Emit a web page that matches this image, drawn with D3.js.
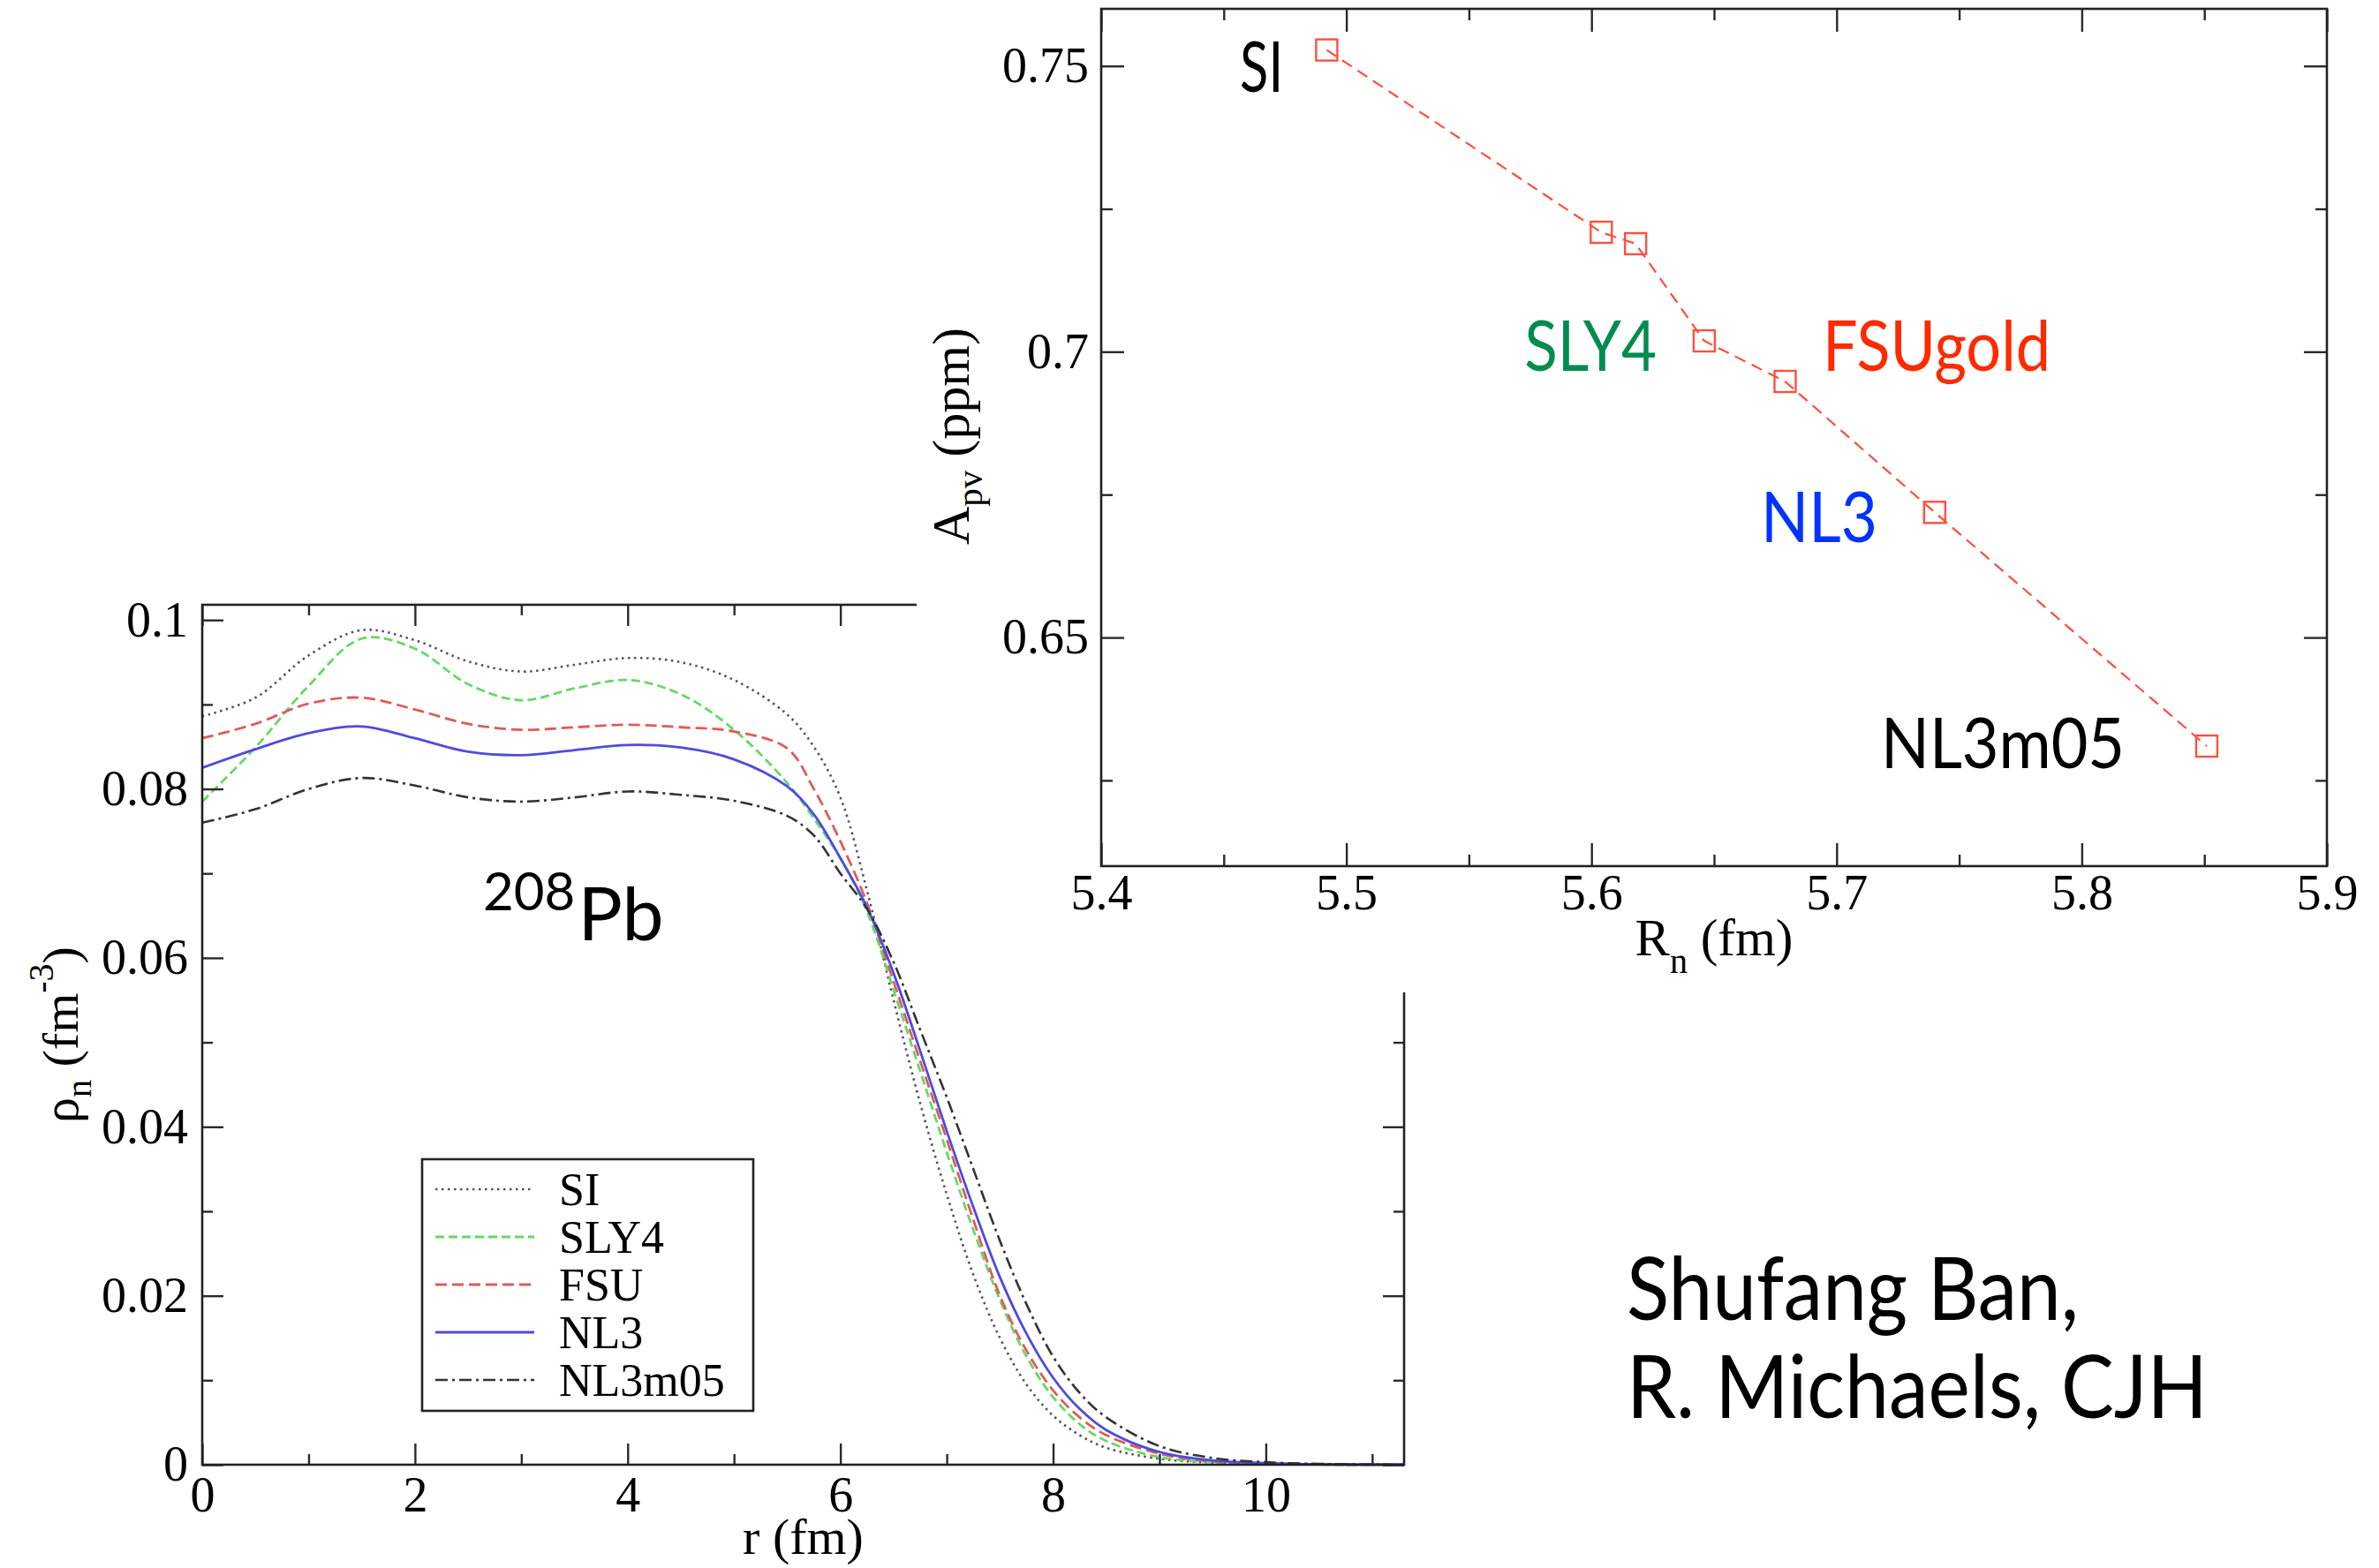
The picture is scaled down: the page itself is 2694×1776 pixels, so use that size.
<!DOCTYPE html>
<html><head><meta charset="utf-8">
<script src="https://cdn.jsdelivr.net/npm/d3@7"></script>
<style>html,body{margin:0;padding:0;background:#fff}svg{display:block}</style>
</head><body>
<svg id="c" width="2694" height="1776"></svg>
<script>
// ---------- DATA: left panel, neutron density of 208Pb ----------
const rGrid   = [0,0.5,1,1.5,2,2.5,3,3.5,4,4.5,5,5.5,5.75,6,6.25,6.5,6.75,7,7.25,7.5,7.75,8,8.25,8.5,9,9.5,10,10.5,11.3];
const rhoSI   = [.0886,.0908,.0958,.0988,.0976,.0951,.0939,.0947,.0955,.0950,.0929,.0888,.0850,.0790,.0680,.0550,.0428,.0320,.0225,.0150,.0095,.0058,.0035,.0020,.0007,.00025,.0001,.00003,0];
const rhoSLY4 = [.0785,.0849,.0922,.0978,.0966,.0924,.0905,.0919,.0929,.0912,.0870,.0807,.0765,.0718,.0655,.0562,.0466,.0370,.0278,.0195,.0128,.0080,.0048,.0028,.0009,.0003,.0001,.00003,0];
const rhoFSU  = [.0860,.0877,.0901,.0908,.0894,.0877,.0870,.0873,.0876,.0873,.0868,.0848,.0800,.0738,.0665,.0572,.0478,.0385,.0290,.0200,.0135,.0088,.0056,.0035,.0013,.0004,.00015,.00004,0];
const rhoNL3  = [.0825,.0847,.0866,.0874,.0860,.0844,.0840,.0846,.0852,.0849,.0835,.0803,.0770,.0718,.0660,.0582,.0490,.0395,.0305,.0222,.0155,.0103,.0066,.0041,.0015,.0005,.0002,.00005,0];
const rhoNL3m05=[.0760,.0776,.0800,.0813,.0804,.0790,.0785,.0790,.0797,.0793,.0786,.0768,.0745,.0700,.0658,.0595,.0515,.0435,.0350,.0265,.0190,.0128,.0085,.0056,.0022,.0008,.0003,.0001,0];
const seriesNames = ["SI","SLY4","FSU","NL3","NL3m05"];

const leftXTicks = [0,2,4,6,8,10];
const leftXTickLabels = ["0","2","4","6","8","10"];
const leftXMinor = [1,3,5,7,9,11];
const leftYTicks = [0,0.02,0.04,0.06,0.08,0.1];
const leftYTickLabels = ["0","0.02","0.04","0.06","0.08","0.1"];
const leftYMinor = [0.01,0.03,0.05,0.07,0.09];

// ---------- DATA: right panel, A_pv vs R_n ----------
const modelNames = ["SI","SLY4","FSUgold","NL3","NL3m05"];
const Rn  = [5.492,5.604,5.618,5.646,5.679,5.740,5.851];
const Apv = [0.7528,0.7209,0.7189,0.7019,0.6948,0.6719,0.6310];
const rightXTicks = [5.4,5.5,5.6,5.7,5.8,5.9];
const rightXTickLabels = ["5.4","5.5","5.6","5.7","5.8","5.9"];
const rightXMinor = [5.45,5.55,5.65,5.75,5.85];
const rightYTicks = [0.65,0.7,0.75];
const rightYTickLabels = ["0.65","0.7","0.75"];
const rightYMinor = [0.625,0.675,0.725];
// label anchors (data units of the right panel)
const labelRn  = [5.4566,5.5726,5.6943,5.6691,5.7181];
const labelApv = [0.7455,0.6967,0.6967,0.6667,0.6271];

// ---------- STYLES ----------
const serif = "'Liberation Serif','Times New Roman',serif";
const sans  = "Lato,'Open Sans',sans-serif";
const curveStyle = {
  SI:     {stroke:"#555555", dash:"2.5,4.5", w:2.6},
  SLY4:   {stroke:"#66d866", dash:"10,5",   w:2.8},
  FSU:    {stroke:"#e05a5a", dash:"13,6",   w:2.8},
  NL3:    {stroke:"#4c4ce0", dash:null,     w:2.8},
  NL3m05: {stroke:"#333333", dash:"14,5,3,5", w:2.6}
};
const labelColors = ["#000000","#008c50","#ff2a00","#0033ff","#000000"];
const labelWidths = [49,150,258,132,276];

const svg = d3.select("#c");
svg.append("rect").attr("width",2694).attr("height",1776).attr("fill","#fff");

function ticksFor(g, axisFn, scale, vals, len, labels, pad, fs){
  const ax = axisFn(scale).tickValues(vals).tickSize(-len).tickPadding(pad)
    .tickFormat(labels ? ((d,i)=>labels[i]) : "");
  const sel = g.call(ax);
  sel.select(".domain").remove();
  sel.attr("font-family", serif).attr("font-size", fs||56);
  sel.selectAll(".tick line").attr("stroke","#2a2a2a").attr("stroke-width",2.4);
  sel.selectAll(".tick text").attr("fill","#000");
  return sel;
}

// ================= LEFT PANEL =================
const xL = d3.scaleLinear().domain([0,11.3]).range([229,1590]);
const yL = d3.scaleLinear().domain([0,0.1018]).range([1659,685]);
const left = svg.append("g");

const rhoAll = [rhoSI,rhoSLY4,rhoFSU,rhoNL3,rhoNL3m05];
const line = d3.line().x(d=>xL(d[0])).y(d=>yL(d[1])).curve(d3.curveCatmullRom.alpha(0.5));
seriesNames.forEach((nm,k)=>{
  const pts = rGrid.map((r,i)=>[r,rhoAll[k][i]]);
  const st = curveStyle[nm];
  left.append("path").attr("d",line(pts)).attr("fill","none")
    .attr("stroke",st.stroke).attr("stroke-width",st.w)
    .attr("stroke-dasharray",st.dash);
});

// ticks
ticksFor(left.append("g").attr("transform",`translate(0,${yL(0)})`), d3.axisBottom, xL, leftXTicks, 24, leftXTickLabels, 13);
ticksFor(left.append("g").attr("transform",`translate(0,${yL(0)})`), d3.axisBottom, xL, leftXMinor, 12, null, 13);
ticksFor(left.append("g").attr("transform",`translate(0,${yL.range()[1]})`), d3.axisTop, xL, leftXTicks, 24, null, 0);
ticksFor(left.append("g").attr("transform",`translate(0,${yL.range()[1]})`), d3.axisTop, xL, leftXMinor, 12, null, 0);
ticksFor(left.append("g").attr("transform",`translate(${xL(0)},0)`), d3.axisLeft, yL, leftYTicks, 24, leftYTickLabels, 16);
ticksFor(left.append("g").attr("transform",`translate(${xL(0)},0)`), d3.axisLeft, yL, leftYMinor, 12, null, 16);
ticksFor(left.append("g").attr("transform",`translate(${xL.range()[1]},0)`), d3.axisRight, yL, leftYTicks, 24, null, 0);
ticksFor(left.append("g").attr("transform",`translate(${xL.range()[1]},0)`), d3.axisRight, yL, leftYMinor, 12, null, 0);

left.append("rect").attr("x",xL(0)).attr("y",yL.range()[1])
  .attr("width",xL.range()[1]-xL(0)).attr("height",yL(0)-yL.range()[1])
  .attr("fill","none").attr("stroke","#222").attr("stroke-width",2.6);

// axis titles
left.append("text").attr("x",(xL.range()[0]+xL.range()[1])/2).attr("y",1760)
  .attr("text-anchor","middle").attr("font-family",serif).attr("font-size",58).text("r (fm)");
const yt = left.append("text").attr("transform","translate(88,1172) rotate(-90)")
  .attr("text-anchor","middle").attr("font-family",serif).attr("font-size",58);
yt.append("tspan").text("ρ");
yt.append("tspan").attr("font-size",40).attr("dy",15).text("n");
yt.append("tspan").attr("dy",-15).text(" (fm");
yt.append("tspan").attr("font-size",40).attr("dy",-28).text("-3");
yt.append("tspan").attr("dy",28).text(")");

// 208Pb
const pb = left.append("text").attr("x",547).attr("font-family",sans).attr("fill","#000");
pb.append("tspan").attr("y",1031).attr("font-size",60).text("208");
pb.append("tspan").attr("y",1065).attr("dx",3).attr("font-size",84).text("Pb");

// legend
const lg = left.append("g");
lg.append("rect").attr("x",478).attr("y",1313).attr("width",375).attr("height",285)
  .attr("fill","#fff").attr("stroke","#222").attr("stroke-width",2.6);
seriesNames.forEach((nm,i)=>{
  const yy = 1347 + i*54;
  const st = curveStyle[nm];
  lg.append("line").attr("x1",493).attr("x2",605).attr("y1",yy).attr("y2",yy)
    .attr("stroke",st.stroke).attr("stroke-width",st.w).attr("stroke-dasharray",st.dash);
  lg.append("text").attr("x",633).attr("y",yy+18).attr("font-family",serif)
    .attr("font-size",52).text(nm);
});

// ============ white cover (right figure pasted on top) ============
svg.append("rect").attr("x",1038).attr("y",0).attr("width",2694-1038).attr("height",1124).attr("fill","#fff");

// ================= RIGHT PANEL =================
const xR = d3.scaleLinear().domain([5.4,5.9]).range([1247,2635]);
const yR = d3.scaleLinear().domain([0.61,0.76]).range([981,10]);
const right = svg.append("g");

ticksFor(right.append("g").attr("transform",`translate(0,${yR(0.61)})`), d3.axisBottom, xR, rightXTicks, 26, rightXTickLabels, 9);
ticksFor(right.append("g").attr("transform",`translate(0,${yR(0.61)})`), d3.axisBottom, xR, rightXMinor, 13, null, 9);
ticksFor(right.append("g").attr("transform",`translate(0,${yR(0.76)})`), d3.axisTop, xR, rightXTicks, 26, null, 0);
ticksFor(right.append("g").attr("transform",`translate(0,${yR(0.76)})`), d3.axisTop, xR, rightXMinor, 13, null, 0);
ticksFor(right.append("g").attr("transform",`translate(${xR(5.4)},0)`), d3.axisLeft, yR, rightYTicks, 26, rightYTickLabels, 14);
ticksFor(right.append("g").attr("transform",`translate(${xR(5.4)},0)`), d3.axisLeft, yR, rightYMinor, 13, null, 14);
ticksFor(right.append("g").attr("transform",`translate(${xR(5.9)},0)`), d3.axisRight, yR, rightYTicks, 26, null, 0);
ticksFor(right.append("g").attr("transform",`translate(${xR(5.9)},0)`), d3.axisRight, yR, rightYMinor, 13, null, 0);

right.append("rect").attr("x",xR(5.4)).attr("y",yR(0.76))
  .attr("width",xR(5.9)-xR(5.4)).attr("height",yR(0.61)-yR(0.76))
  .attr("fill","none").attr("stroke","#222").attr("stroke-width",2.6);

const pts = Rn.map((r,i)=>[r,Apv[i]]);
right.append("path").attr("d",d3.line().x(d=>xR(d[0])).y(d=>yR(d[1]))(pts))
  .attr("fill","none").attr("stroke","#ff4d3d").attr("stroke-width",2.2).attr("stroke-dasharray","13,8");
right.selectAll("rect.m").data(pts).join("rect").attr("class","m")
  .attr("x",d=>xR(d[0])-12).attr("y",d=>yR(d[1])-12).attr("width",24).attr("height",24)
  .attr("fill","none").attr("stroke","#ff5040").attr("stroke-width",2.4);

// axis titles
const xt = right.append("text").attr("x",(xR(5.4)+xR(5.9))/2).attr("y",1082)
  .attr("text-anchor","middle").attr("font-family",serif).attr("font-size",59);
xt.append("tspan").text("R");
xt.append("tspan").attr("font-size",40).attr("dy",20).text("n");
xt.append("tspan").attr("dy",-20).text(" (fm)");
const yt2 = right.append("text").attr("transform","translate(1097,494) rotate(-90)")
  .attr("text-anchor","middle").attr("font-family",serif).attr("font-size",60);
yt2.append("tspan").text("A");
yt2.append("tspan").attr("font-size",41).attr("dy",15).text("pv");
yt2.append("tspan").attr("dy",-15).text(" (ppm)");

// model labels
modelNames.forEach((nm,i)=>{
  right.append("text").attr("x",xR(labelRn[i])).attr("y",yR(labelApv[i]))
    .attr("font-family",sans).attr("font-size",79).attr("fill",labelColors[i])
    .attr("textLength",labelWidths[i]).attr("lengthAdjust","spacingAndGlyphs").text(nm);
});

// authors
const credits = ["Shufang Ban,","R. Michaels, CJH"];
const creditW = [512,658];
credits.forEach((t,i)=>{
  svg.append("text").attr("x",1842).attr("y",1495+i*111).attr("font-family",sans)
    .attr("font-size",98).attr("fill","#000")
    .attr("textLength",creditW[i]).attr("lengthAdjust","spacingAndGlyphs").text(t);
});
</script>
</body></html>
